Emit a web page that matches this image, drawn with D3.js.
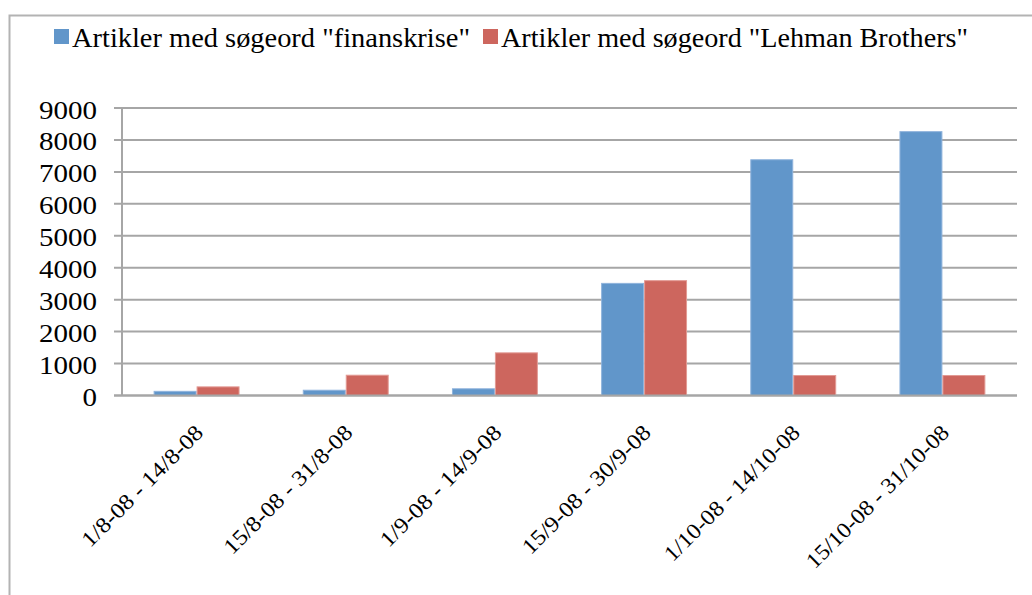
<!DOCTYPE html>
<html>
<head>
<meta charset="utf-8">
<script src="https://cdn.jsdelivr.net/npm/d3@7"></script>
<style>
  body { margin: 0; background: #fff; }
  svg { display: block; }
</style>
</head>
<body>
<svg id="chart" width="1032" height="595"></svg>
<script>
const categories = ["1/8-08 - 14/8-08", "15/8-08 - 31/8-08", "1/9-08 - 14/9-08", "15/9-08 - 30/9-08", "1/10-08 - 14/10-08", "15/10-08 - 31/10-08"];
const seriesNames = ['Artikler med søgeord "finanskrise"', 'Artikler med søgeord "Lehman Brothers"'];
const finanskrise = [130, 165, 210, 3510, 7380, 8260];
const lehman = [270, 635, 1335, 3595, 625, 625];
const yTicks = [0, 1000, 2000, 3000, 4000, 5000, 6000, 7000, 8000, 9000];

const colors = ["#6196CA", "#CD665E"];
const strokes = ["#8fb3dc", "#e29a94"];
const FONT = '"Liberation Serif"';

const svg = d3.select("#chart");
const margin = { left: 122, right: 1017, top: 108, bottom: 395.5 };

// outer frame
svg.append("rect").attr("x", 9.5).attr("y", 15.5).attr("width", 1040).attr("height", 600)
  .attr("fill", "none").attr("stroke", "#b3b3b3").attr("stroke-width", 2);

const x0 = d3.scaleBand().domain(categories).range([margin.left, margin.right]).paddingInner(0).paddingOuter(0);
const y = d3.scaleLinear().domain([0, 9000]).range([margin.bottom, margin.top]);

// gridlines
svg.append("g").selectAll("line").data(yTicks).join("line")
  .attr("x1", 114).attr("x2", margin.right)
  .attr("y1", d => y(d)).attr("y2", d => y(d))
  .attr("stroke", "#a6a6a6").attr("stroke-width", 2);

// y axis line
svg.append("line").attr("x1", margin.left).attr("x2", margin.left)
  .attr("y1", margin.top).attr("y2", margin.bottom)
  .attr("stroke", "#a6a6a6").attr("stroke-width", 2);

// y labels
svg.append("g").selectAll("text").data(yTicks).join("text")
  .style("font-family", FONT)
  .attr("x", 97).attr("y", d => y(d) + 10.5)
  .attr("text-anchor", "end").attr("font-size", 26)
  .text(d => d)
  .attr("textLength", d => String(d).length * 14.5).attr("lengthAdjust", "spacingAndGlyphs");

const barW = x0.bandwidth() * 0.288;
const data = categories.map((c, i) => ({ c, vals: [finanskrise[i], lehman[i]] }));

const groups = svg.append("g").selectAll("g").data(data).join("g");
groups.selectAll("rect").data(d => d.vals.map((v, k) => ({ c: d.c, v, k }))).join("rect")
  .attr("x", d => x0(d.c) + x0.bandwidth() / 2 + (d.k - 1) * barW + 0.5)
  .attr("width", barW - 1)
  .attr("y", d => y(d.v))
  .attr("height", d => y(0) - y(d.v))
  .attr("fill", d => colors[d.k])
  .attr("stroke", d => strokes[d.k]).attr("stroke-width", 1);

// redraw baseline on top
svg.append("line").attr("x1", 114).attr("x2", margin.right)
  .attr("y1", y(0)).attr("y2", y(0))
  .attr("stroke", "#a6a6a6").attr("stroke-width", 2);

// category labels
svg.append("g").selectAll("text").data(categories).join("text")
  .style("font-family", FONT)
  .attr("text-anchor", "end").attr("font-size", 22)
  .attr("transform", d => `translate(${x0(d) + x0.bandwidth() / 2 + 8},${434}) rotate(-45)`)
  .text(d => d)
  .attr("textLength", d => d.length * 10.1).attr("lengthAdjust", "spacingAndGlyphs");

// legend
const legend = svg.append("g");
const legX = [54, 483];
const legW = [398, 467];
seriesNames.forEach((n, k) => {
  legend.append("rect").attr("x", legX[k]).attr("y", 29).attr("width", 15).attr("height", 15).attr("fill", colors[k]);
  legend.append("text").style("font-family", FONT)
    .attr("x", legX[k] + 18).attr("y", 47).attr("font-size", 27)
    .attr("textLength", legW[k]).attr("lengthAdjust", "spacingAndGlyphs").text(n);
});
</script>
</body>
</html>
